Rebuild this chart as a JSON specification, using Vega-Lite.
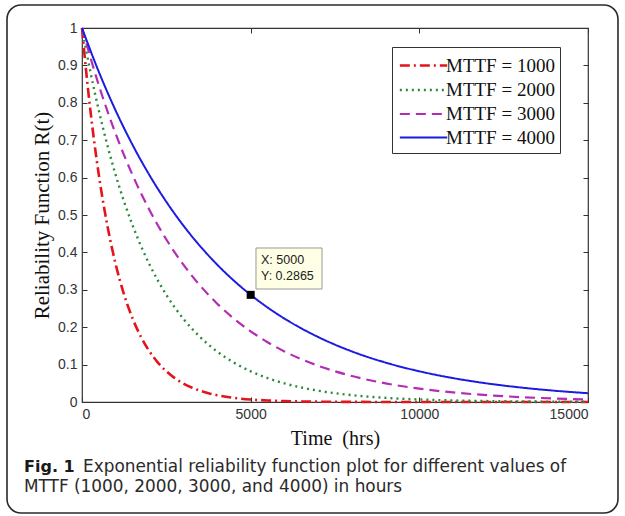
{
"$schema":"https://vega.github.io/schema/vega-lite/v6.json",
"width":506,"height":374,
"autosize":{"type":"none"},
"padding":{"left":82,"top":28,"right":37,"bottom":114},
"background":"white",
"config":{"view":{"stroke":"#333","strokeWidth":1.2},
 "axis":{"grid":false,"domain":false,"tickColor":"#333","tickSize":-5,"labelFont":"Liberation Sans","labelFontSize":14,"labelColor":"#333","titleFont":"Liberation Serif","titleFontSize":20,"titleFontWeight":"normal","titleColor":"#111"}},
"datasets":{"curves":[
{"t":0,"m":"MTTF = 1000","r":1},{"t":125,"m":"MTTF = 1000","r":0.8825},{"t":250,"m":"MTTF = 1000","r":0.7788},{"t":375,"m":"MTTF = 1000","r":0.6873},{"t":500,"m":"MTTF = 1000","r":0.6065},{"t":750,"m":"MTTF = 1000","r":0.4724},{"t":1000,"m":"MTTF = 1000","r":0.3679},{"t":1250,"m":"MTTF = 1000","r":0.2865},{"t":1500,"m":"MTTF = 1000","r":0.2231},{"t":1750,"m":"MTTF = 1000","r":0.1738},{"t":2000,"m":"MTTF = 1000","r":0.1353},{"t":2250,"m":"MTTF = 1000","r":0.1054},{"t":2500,"m":"MTTF = 1000","r":0.0821},{"t":2750,"m":"MTTF = 1000","r":0.0639},{"t":3000,"m":"MTTF = 1000","r":0.0498},{"t":3250,"m":"MTTF = 1000","r":0.0388},{"t":3500,"m":"MTTF = 1000","r":0.0302},{"t":3750,"m":"MTTF = 1000","r":0.0235},{"t":4000,"m":"MTTF = 1000","r":0.0183},{"t":4500,"m":"MTTF = 1000","r":0.0111},{"t":5000,"m":"MTTF = 1000","r":0.0067},{"t":5500,"m":"MTTF = 1000","r":0.0041},{"t":6000,"m":"MTTF = 1000","r":0.0025},{"t":7000,"m":"MTTF = 1000","r":0.0009},{"t":8000,"m":"MTTF = 1000","r":0.0003},{"t":9000,"m":"MTTF = 1000","r":0.0001},{"t":10000,"m":"MTTF = 1000","r":0.00005},{"t":12000,"m":"MTTF = 1000","r":0.00001},{"t":15000,"m":"MTTF = 1000","r":0},
{"t":0,"m":"MTTF = 2000","r":1},{"t":250,"m":"MTTF = 2000","r":0.8825},{"t":500,"m":"MTTF = 2000","r":0.7788},{"t":1000,"m":"MTTF = 2000","r":0.6065},{"t":1500,"m":"MTTF = 2000","r":0.4724},{"t":2000,"m":"MTTF = 2000","r":0.3679},{"t":2500,"m":"MTTF = 2000","r":0.2865},{"t":3000,"m":"MTTF = 2000","r":0.2231},{"t":3500,"m":"MTTF = 2000","r":0.1738},{"t":4000,"m":"MTTF = 2000","r":0.1353},{"t":4500,"m":"MTTF = 2000","r":0.1054},{"t":5000,"m":"MTTF = 2000","r":0.0821},{"t":5500,"m":"MTTF = 2000","r":0.0639},{"t":6000,"m":"MTTF = 2000","r":0.0498},{"t":6500,"m":"MTTF = 2000","r":0.0388},{"t":7000,"m":"MTTF = 2000","r":0.0302},{"t":7500,"m":"MTTF = 2000","r":0.0235},{"t":8000,"m":"MTTF = 2000","r":0.0183},{"t":9000,"m":"MTTF = 2000","r":0.0111},{"t":10000,"m":"MTTF = 2000","r":0.0067},{"t":11000,"m":"MTTF = 2000","r":0.0041},{"t":12000,"m":"MTTF = 2000","r":0.0025},{"t":13000,"m":"MTTF = 2000","r":0.0015},{"t":14000,"m":"MTTF = 2000","r":0.0009},{"t":15000,"m":"MTTF = 2000","r":0.0006},
{"t":0,"m":"MTTF = 3000","r":1},{"t":500,"m":"MTTF = 3000","r":0.8465},{"t":1000,"m":"MTTF = 3000","r":0.7165},{"t":1500,"m":"MTTF = 3000","r":0.6065},{"t":2000,"m":"MTTF = 3000","r":0.5134},{"t":2500,"m":"MTTF = 3000","r":0.4346},{"t":3000,"m":"MTTF = 3000","r":0.3679},{"t":3500,"m":"MTTF = 3000","r":0.3114},{"t":4000,"m":"MTTF = 3000","r":0.2636},{"t":4500,"m":"MTTF = 3000","r":0.2231},{"t":5000,"m":"MTTF = 3000","r":0.1889},{"t":5500,"m":"MTTF = 3000","r":0.1599},{"t":6000,"m":"MTTF = 3000","r":0.1353},{"t":7000,"m":"MTTF = 3000","r":0.097},{"t":8000,"m":"MTTF = 3000","r":0.0695},{"t":9000,"m":"MTTF = 3000","r":0.0498},{"t":10000,"m":"MTTF = 3000","r":0.0357},{"t":11000,"m":"MTTF = 3000","r":0.0256},{"t":12000,"m":"MTTF = 3000","r":0.0183},{"t":13000,"m":"MTTF = 3000","r":0.0131},{"t":14000,"m":"MTTF = 3000","r":0.0094},{"t":15000,"m":"MTTF = 3000","r":0.0067},
{"t":0,"m":"MTTF = 4000","r":1},{"t":500,"m":"MTTF = 4000","r":0.8825},{"t":1000,"m":"MTTF = 4000","r":0.7788},{"t":1500,"m":"MTTF = 4000","r":0.6873},{"t":2000,"m":"MTTF = 4000","r":0.6065},{"t":2500,"m":"MTTF = 4000","r":0.5353},{"t":3000,"m":"MTTF = 4000","r":0.4724},{"t":3500,"m":"MTTF = 4000","r":0.4169},{"t":4000,"m":"MTTF = 4000","r":0.3679},{"t":4500,"m":"MTTF = 4000","r":0.3247},{"t":5000,"m":"MTTF = 4000","r":0.2865},{"t":5500,"m":"MTTF = 4000","r":0.2528},{"t":6000,"m":"MTTF = 4000","r":0.2231},{"t":7000,"m":"MTTF = 4000","r":0.1738},{"t":8000,"m":"MTTF = 4000","r":0.1353},{"t":9000,"m":"MTTF = 4000","r":0.1054},{"t":10000,"m":"MTTF = 4000","r":0.0821},{"t":11000,"m":"MTTF = 4000","r":0.0639},{"t":12000,"m":"MTTF = 4000","r":0.0498},{"t":13000,"m":"MTTF = 4000","r":0.0388},{"t":14000,"m":"MTTF = 4000","r":0.0302},{"t":15000,"m":"MTTF = 4000","r":0.0235}
],"one":[{}]},
"layer":[
{"data":{"name":"one"},"mark":{"type":"rect","filled":false,"stroke":"#2a2a2a","strokeWidth":1.6,"cornerRadius":14},
 "encoding":{"x":{"datum":-2223,"type":"quantitative","scale":{"domain":[0,15000],"nice":false,"zero":false},"axis":null},"x2":{"datum":15889},
  "y":{"datum":1.0615,"type":"quantitative","scale":{"domain":[0,1],"nice":false,"zero":false},"axis":null},"y2":{"datum":-0.2968}}},
{"data":{"name":"curves"},
 "mark":{"type":"line","interpolate":"monotone"},
 "encoding":{
  "x":{"field":"t","type":"quantitative","scale":{"domain":[0,15000],"nice":false,"zero":false},
   "axis":{"values":[0,5000,10000,15000],"format":"d","title":"Time\u00a0 (hrs)","labelPadding":10,"titlePadding":7}},
  "y":{"field":"r","type":"quantitative","scale":{"domain":[0,1],"nice":false,"zero":false},
   "axis":{"values":[0,0.1,0.2,0.3,0.4,0.5,0.6,0.7,0.8,0.9,1],"format":".1~f","title":"Reliability Function R(t)","titleFontSize":21,"labelPadding":10,"titlePadding":5}},
  "color":{"field":"m","type":"nominal","scale":{"domain":["MTTF = 1000","MTTF = 2000","MTTF = 3000","MTTF = 4000"],"range":["#e3141c","#2a8a3a","#b42cb4","#1c1ce0"]},
   "legend":{"title":null,"orient":"none","legendX":310,"legendY":19,"symbolType":"M-2,0H2","symbolSize":560,"symbolStrokeWidth":2,"symbolOffset":13,"labelFont":"Liberation Serif","labelFontSize":19,"labelColor":"#111","fillColor":"white","strokeColor":"#333","padding":5,"rowPadding":0.5,"labelOffset":9}},
  "strokeDash":{"field":"m","type":"nominal","scale":{"domain":["MTTF = 1000","MTTF = 2000","MTTF = 3000","MTTF = 4000"],"range":[[10,4,2,4],[2,4],[10,6],[1,0]]},"legend":null},
  "strokeWidth":{"field":"m","type":"nominal","scale":{"domain":["MTTF = 1000","MTTF = 2000","MTTF = 3000","MTTF = 4000"],"range":[2.6,2,2,2]},"legend":null}
 }},
{"data":{"name":"one"},"mark":{"type":"rule","opacity":0},
 "encoding":{"x":{"datum":0,"type":"quantitative","scale":{"domain":[0,15000],"nice":false,"zero":false},"axis":{"orient":"top","labels":false,"title":null,"values":[0,5000,10000,15000]}}}},
{"data":{"name":"one"},"mark":{"type":"rule","opacity":0},
 "encoding":{"y":{"datum":0,"type":"quantitative","scale":{"domain":[0,1],"nice":false,"zero":false},"axis":{"orient":"right","labels":false,"title":null,"values":[0,0.1,0.2,0.3,0.4,0.5,0.6,0.7,0.8,0.9,1]}}}},
{"data":{"name":"one"},"mark":{"type":"rect","fill":"#ffffe6","stroke":"#999","strokeWidth":1},
 "encoding":{"x":{"datum":5158,"type":"quantitative","scale":{"domain":[0,15000],"nice":false,"zero":false},"axis":null},"x2":{"datum":7115},
  "y":{"datum":0.4118,"type":"quantitative","scale":{"domain":[0,1],"nice":false,"zero":false},"axis":null},"y2":{"datum":0.3021}}},
{"data":{"name":"one"},"mark":{"type":"point","shape":"square","filled":true,"color":"black","size":64,"opacity":1},
 "encoding":{"x":{"datum":5000,"type":"quantitative","scale":{"domain":[0,15000],"nice":false,"zero":false},"axis":null},
  "y":{"datum":0.2865,"type":"quantitative","scale":{"domain":[0,1],"nice":false,"zero":false},"axis":null}}},
{"data":{"name":"one"},"mark":{"type":"text","align":"left","baseline":"middle","font":"Liberation Sans","fontSize":12.5,"color":"#222"},
 "encoding":{"x":{"datum":5306,"type":"quantitative","scale":{"domain":[0,15000],"nice":false,"zero":false},"axis":null},
  "y":{"datum":0.3797,"type":"quantitative","scale":{"domain":[0,1],"nice":false,"zero":false},"axis":null},"text":{"value":"X: 5000"}}},
{"data":{"name":"one"},"mark":{"type":"text","align":"left","baseline":"middle","font":"Liberation Sans","fontSize":12.5,"color":"#222"},
 "encoding":{"x":{"datum":5306,"type":"quantitative","scale":{"domain":[0,15000],"nice":false,"zero":false},"axis":null},
  "y":{"datum":0.3369,"type":"quantitative","scale":{"domain":[0,1],"nice":false,"zero":false},"axis":null},"text":{"value":"Y: 0.2865"}}},
{"data":{"name":"one"},"mark":{"type":"text","align":"left","baseline":"middle","font":"DejaVu Sans","fontSize":16,"fontWeight":"bold","color":"#1a1a1a"},
 "encoding":{"x":{"datum":-1719,"type":"quantitative","scale":{"domain":[0,15000],"nice":false,"zero":false},"axis":null},
  "y":{"datum":-0.1738,"type":"quantitative","scale":{"domain":[0,1],"nice":false,"zero":false},"axis":null},"text":{"value":"Fig. 1"}}},
{"data":{"name":"one"},"mark":{"type":"text","align":"left","baseline":"middle","font":"DejaVu Sans","fontSize":16.9,"color":"#2a2a2a"},
 "encoding":{"x":{"datum":30,"type":"quantitative","scale":{"domain":[0,15000],"nice":false,"zero":false},"axis":null},
  "y":{"datum":-0.1738,"type":"quantitative","scale":{"domain":[0,1],"nice":false,"zero":false},"axis":null},"text":{"value":"Exponential reliability function plot for different values of"}}},
{"data":{"name":"one"},"mark":{"type":"text","align":"left","baseline":"middle","font":"DejaVu Sans","fontSize":16.9,"color":"#2a2a2a"},
 "encoding":{"x":{"datum":-1719,"type":"quantitative","scale":{"domain":[0,15000],"nice":false,"zero":false},"axis":null},
  "y":{"datum":-0.2273,"type":"quantitative","scale":{"domain":[0,1],"nice":false,"zero":false},"axis":null},"text":{"value":"MTTF (1000, 2000, 3000, and 4000) in hours"}}}
],
"resolve":{"axis":{"x":"independent","y":"independent"}}
}
